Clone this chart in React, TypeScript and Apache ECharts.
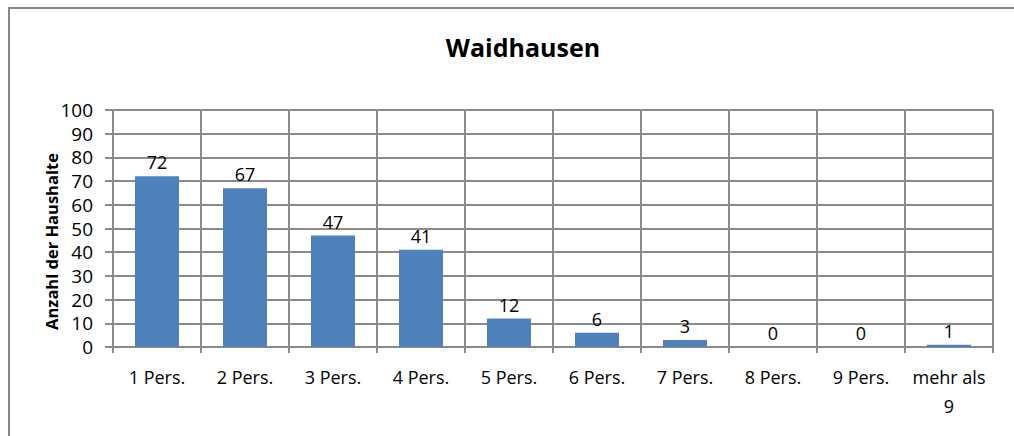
import React, { useEffect, useRef } from "react";
import * as echarts from "echarts";

const categories = ["1 Pers.", "2 Pers.", "3 Pers.", "4 Pers.", "5 Pers.", "6 Pers.", "7 Pers.", "8 Pers.", "9 Pers.", "mehr als\n9"];
const values = [72, 67, 47, 41, 12, 6, 3, 0, 0, 1];
const title = "Waidhausen";
const yAxisName = "Anzahl der Haushalte";

const FONT = "'Open Sans', sans-serif";
const GRID = "#8a8a8a";

export default function App() {
  const ref = useRef<HTMLDivElement>(null);
  useEffect(() => {
    const chart = echarts.init(ref.current!, null, { renderer: "svg" });
    chart.setOption({
      animation: false,
      backgroundColor: "#fff",
      graphic: [
        {
          type: "line",
          shape: { x1: 9, y1: 8, x2: 9, y2: 436 },
          style: { stroke: "#888", lineWidth: 2 },
        },
        {
          type: "line",
          shape: { x1: 8, y1: 8, x2: 1014, y2: 8 },
          style: { stroke: "#888", lineWidth: 2 },
        },
      ],
      title: {
        text: title,
        left: 518,
        textAlign: "center",
        top: 29,
        textStyle: { fontFamily: FONT, fontWeight: "bold", fontSize: 25, color: "#000" },
      },
      grid: { left: 113, right: 21, top: 110, bottom: 89 },
      xAxis: {
        type: "category",
        data: categories,
        boundaryGap: true,
        axisLine: { show: true, lineStyle: { color: GRID, width: 2 } },
        axisTick: { show: true, length: 6, lineStyle: { color: GRID, width: 2 } },
        splitLine: { show: true, lineStyle: { color: GRID, width: 2 } },
        axisLabel: { fontFamily: FONT, fontSize: 18, color: "#000", margin: 15, lineHeight: 29, interval: 0 },
      },
      yAxis: {
        type: "value",
        min: 0,
        max: 100,
        interval: 10,
        name: yAxisName,
        nameLocation: "middle",
        nameGap: 53,
        nameMoveOverlap: false,
        nameTextStyle: { fontFamily: FONT, fontWeight: "bold", fontSize: 16.5, color: "#000", padding: [0, 26, 0, 0] },
        axisLine: { show: true, lineStyle: { color: GRID, width: 2 } },
        axisTick: { show: true, length: 8, lineStyle: { color: GRID, width: 2 } },
        splitLine: { show: true, lineStyle: { color: GRID, width: 2 } },
        axisLabel: { fontFamily: FONT, fontSize: 19, color: "#000", margin: 20 },
      },
      series: [
        {
          type: "bar",
          data: values,
          barWidth: "50%",
          itemStyle: { color: "#4F81BD" },
          label: { show: true, position: "top", distance: 5, fontFamily: FONT, fontSize: 18, color: "#000" },
        },
      ],
    });
    return () => chart.dispose();
  }, []);
  return <div ref={ref} style={{ width: 1014, height: 436, position: "absolute", left: 0, top: 0 }} />;
}
